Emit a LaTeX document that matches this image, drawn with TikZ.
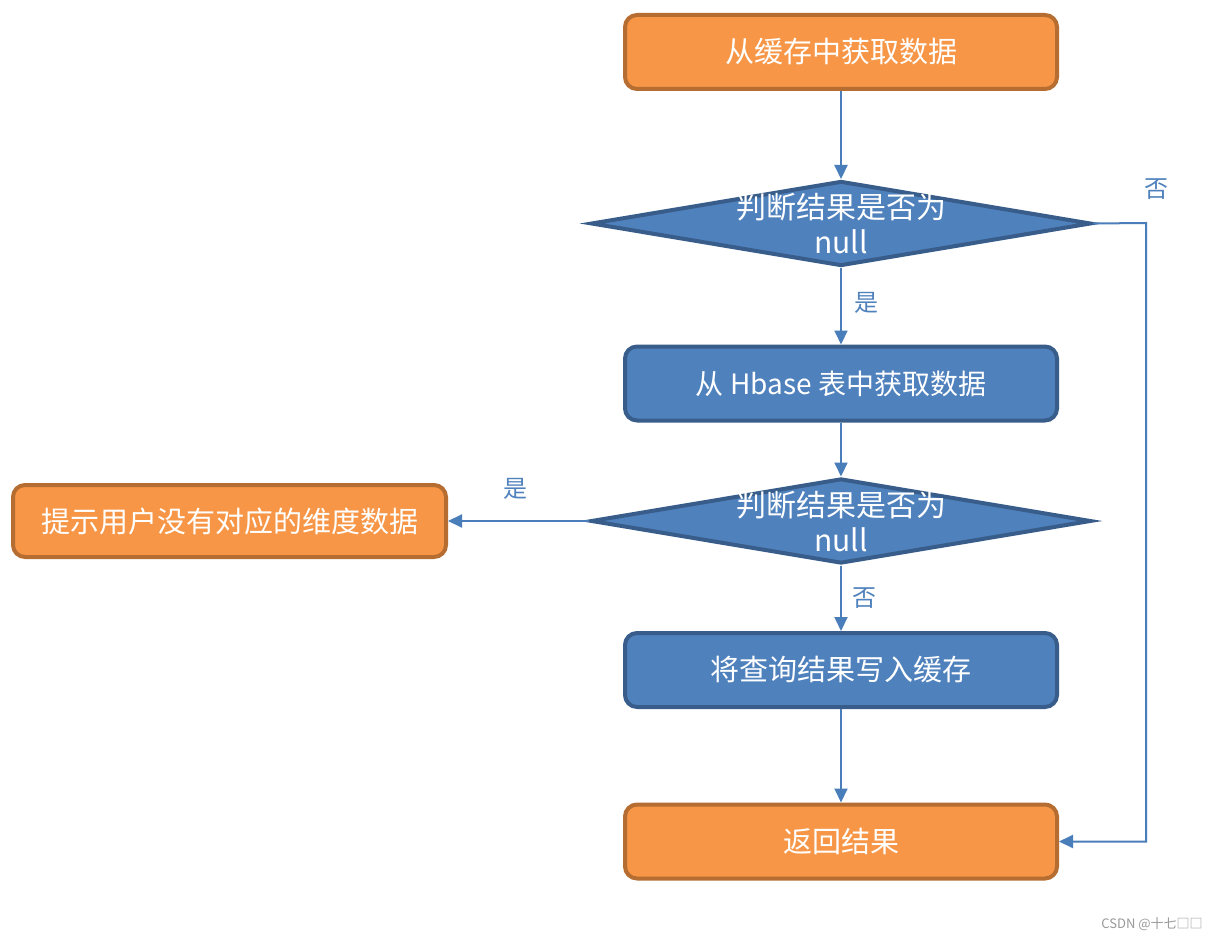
\documentclass[tikz,border=0pt]{standalone}
\usepackage{fontspec}
\setmainfont{Noto Sans CJK SC}
\usetikzlibrary{shapes.geometric,arrows.meta}
\definecolor{orangefill}{HTML}{F79646}
\definecolor{orangeedge}{HTML}{B66D31}
\definecolor{bluefill}{HTML}{4F81BD}
\definecolor{blueedge}{HTML}{385D8A}
\definecolor{linecol}{HTML}{4A7EBB}
\definecolor{labcol}{HTML}{4F81BD}
\begin{document}
\begin{tikzpicture}[x=1pt,y=-1pt,
  boxbase/.style={rectangle, rounded corners=12pt, minimum width=432pt, minimum height=74pt,
    line width=4pt, text=white, font=\fontsize{29}{34}\selectfont, inner sep=0pt},
  obox/.style={boxbase, fill=orangefill, draw=orangeedge},
  bbox/.style={boxbase, fill=bluefill, draw=blueedge},
  dia/.style={diamond, fill=bluefill, draw=blueedge, line width=4pt, minimum width=500pt,
    minimum height=85pt, inner sep=0pt},
  diatext/.style={text=white, align=center, font=\fontsize{30}{35}\selectfont, inner sep=0pt},
  conn/.style={draw=linecol, line width=2pt, -{Triangle[length=14pt,width=13pt]}},
  lab/.style={text=labcol, font=\fontsize{24}{28}\selectfont, inner sep=0pt}]
\useasboundingbox (0,0) rectangle (1217,941);
\fill[white] (0,0) rectangle (1217,941);

\node[obox] (b1) at (841,52) {从缓存中获取数据};
\node[dia] (d1) at (841,223.5) {};
\node[diatext] (t1) at (841,224) {判断结果是否为\\null};
\node[bbox, font=\fontsize{28}{33}\selectfont] (b2) at (841,383.5) {从 Hbase 表中获取数据};
\node[dia] (d2) at (841,521) {};
\node[diatext] (t2) at (841,522) {判断结果是否为\\null};
\node[bbox] (b3) at (841,670) {将查询结果写入缓存};
\node[obox] (b4) at (841,841.5) {返回结果};
\node[obox, minimum width=433pt, minimum height=72pt] (bl) at (229.5,521) {提示用户没有对应的维度数据};

\coordinate (c1) at (1146,223);

\draw[conn] (b1) -- (d1);
\draw[conn] (d1) -- (b2);
\draw[conn] (b2) -- (d2);
\draw[conn] (d2) -- (bl);
\draw[conn] (d2) -- (b3);
\draw[conn] (b3) -- (b4);
\draw[conn] (d1.east) -- (c1) |- (b4.east);

\node[lab] (l1) at (866,303) {是};
\node[lab] (l2) at (864,598) {否};
\node[lab] (l3) at (515,489) {是};
\node[lab] (l4) at (1156,189) {否};

\node[text=gray!80, font=\fontsize{13}{15}\selectfont, inner sep=0pt] (wm) at (1152,924) {CSDN @十七□□};
\end{tikzpicture}
\end{document}
